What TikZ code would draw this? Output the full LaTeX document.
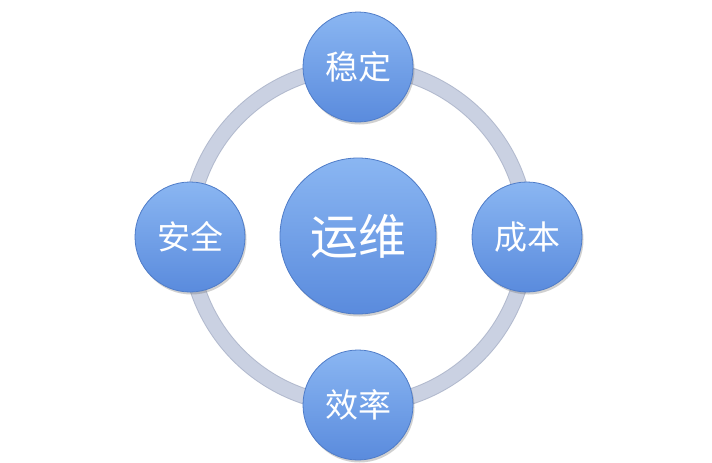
\documentclass[tikz,border=0pt]{standalone}
\usepackage{fontspec}
\newfontfamily\cjk{Noto Sans CJK SC}
\usetikzlibrary{shadows}
\definecolor{ringc}{HTML}{CAD1E2}
\definecolor{ringedge}{HTML}{B2BACE}
\definecolor{btop}{HTML}{8AB6F2}
\definecolor{bbot}{HTML}{5A8BDD}
\definecolor{bedge}{HTML}{4F7CC8}
\tikzset{
  ball/.style={circle, draw=bedge, line width=0.8pt, top color=btop, bottom color=bbot,
    middle color=btop!50!bbot, inner sep=0pt, text=white,
    drop shadow={shadow xshift=1.5pt, shadow yshift=-2.5pt, opacity=0.3, fill=black!60}},
  small/.style={ball, minimum size=110pt, font=\cjk\fontsize{33}{33}\selectfont},
  big/.style={ball, minimum size=156pt, font=\cjk\fontsize{48}{48}\selectfont},
}
\begin{document}
\begin{tikzpicture}[x=1pt,y=-1pt]
\useasboundingbox (0,0) rectangle (712,463);
\fill[white] (0,0) rectangle (712,463);
\coordinate (c) at (358,236);
\draw[ringedge, line width=16pt] (c) circle[radius=169];
\draw[ringc, line width=14pt] (c) circle[radius=169];
\node[big] (ops) at (c) {运维};
\node[small] (top) at (358,67) {稳定};
\node[small] (left) at (190,237) {安全};
\node[small] (right) at (527,237) {成本};
\node[small] (bot) at (358,405) {效率};
\end{tikzpicture}
\end{document}
